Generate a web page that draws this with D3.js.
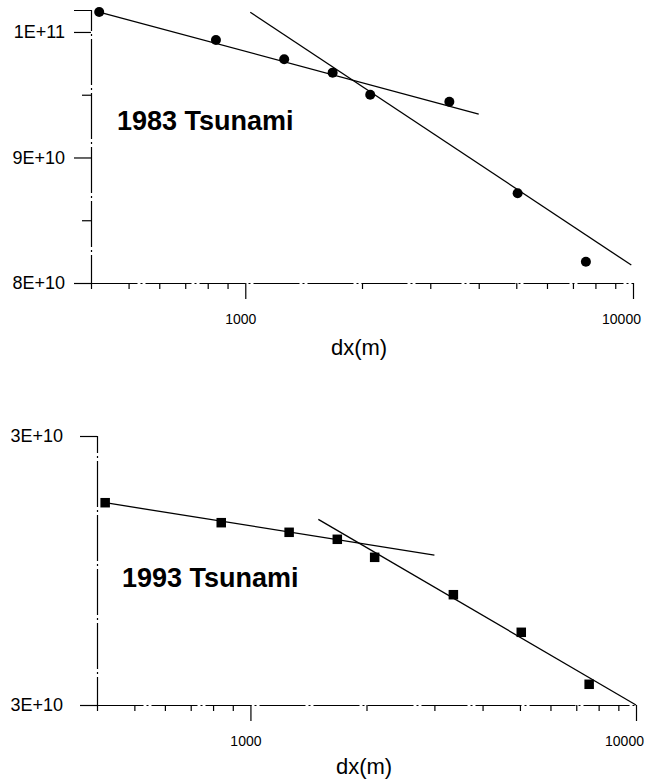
<!DOCTYPE html>
<html>
<head>
<meta charset="utf-8">
<script src="https://cdn.jsdelivr.net/npm/d3@7"></script>
<style>
  body { margin: 0; background: #fff; }
  svg { display: block; }
  text { font-family: "Liberation Sans", Arial, sans-serif; fill: #000; }
</style>
</head>
<body>
<svg width="648" height="784"></svg>
<script>
// grid spacing dx (m), shared by both events
var dxValues = [420, 840, 1260, 1680, 2100, 3360, 5040, 7560];
var xTicks = [400, 500, 600, 700, 800, 900, 1000, 2000, 3000, 4000, 5000, 6000, 7000, 8000, 9000, 10000];
var xLabelled = [1000, 10000];

// 1983 event
var values1983 = [1.0159e11, 9.936e10, 9.782e10, 9.676e10, 9.500e10, 9.444e10, 8.715e10, 8.170e10];
var fit1983a = [[420, 1.0159e11], [4000, 9.346e10]];
var fit1983b = [[1030, 1.0157e11], [9900, 8.143e10]];
var yTicks1983 = [8e10, 8.5e10, 9e10, 9.5e10, 1e11];
var yLabelled1983 = [8e10, 9e10, 1e11];

// 1993 event
var values1993 = [3.1008e10, 3.0711e10, 3.0568e10, 3.0464e10, 3.0196e10, 2.9640e10, 2.9081e10, 2.8308e10];
var fit1993a = [[420, 3.1008e10], [3000, 3.023e10]];
var fit1993b = [[1500, 3.0761e10], [10000, 2.8e10]];
var yTicks1993 = [2.8e10, 3.2e10];
var yLabelled1993 = [2.8e10, 3.2e10];

const svg = d3.select("svg");
const fmtE = d => d3.format(".0e")(d).toUpperCase();

function drawPanel(p) {
    const x = d3.scaleLog().domain([400, 10000]).range(p.xRange);
    const y = d3.scaleLinear().domain(p.yDomain).range(p.yRange);
    const g = svg.append("g");

    // y axis, ticks out to the left
    const ya = g.append("g")
        .attr("transform", `translate(${p.xRange[0]},0)`)
        .call(d3.axisLeft(y)
            .tickValues(p.yTicks)
            .tickFormat(d => p.yLabelled.includes(d) ? fmtE(d) : "")
            .tickSizeOuter(0)
            .tickSize(p.yTickLen)
            .tickPadding(p.yPad));
    ya.selectAll(".tick line")
        .attr("x2", d => p.yLabelled.includes(d) ? -p.yTickLen : -9)
        .attr("stroke-width", 1.2);
    ya.selectAll(".tick text")
        .attr("font-size", 18)
        .attr("font-family", '"Liberation Sans", Arial, sans-serif');

    // x axis, log scale, ticks hanging down
    const xa = g.append("g")
        .attr("transform", `translate(0,${p.yRange[0]})`)
        .call(d3.axisBottom(x)
            .tickValues(xTicks)
            .tickFormat(d => xLabelled.includes(d) ? d : "")
            .tickSizeOuter(0));
    xa.selectAll(".tick line")
        .attr("y2", d => xLabelled.includes(d) ? 16 : 6)
        .attr("stroke-width", 1.2);
    // the last label is pushed in so it stays on the page
    xa.selectAll(".tick text")
        .attr("y", 41).attr("dy", 0)
        .attr("dx", d => d === 10000 ? -12 : -5)
        .attr("font-size", 14)
        .attr("font-family", '"Liberation Sans", Arial, sans-serif');

    g.selectAll(".domain")
        .attr("stroke-width", 1.2)
        .attr("stroke-dasharray", "46,3,2,3");

    // fitted lines
    const line = d3.line().x(d => x(d[0])).y(d => y(d[1]));
    g.selectAll("path.fit")
        .data(p.fits)
        .enter().append("path")
        .attr("class", "fit")
        .attr("d", line)
        .attr("fill", "none")
        .attr("stroke", "#000")
        .attr("stroke-width", 1.3);

    // markers
    const pts = dxValues.map((d, i) => [d, p.values[i]]);
    if (p.marker === "circle") {
        g.selectAll("circle")
            .data(pts)
            .enter().append("circle")
            .attr("cx", d => x(d[0]))
            .attr("cy", d => y(d[1]))
            .attr("r", 5)
            .attr("fill", "#000");
    } else {
        const s = 9.5;
        g.selectAll("rect")
            .data(pts)
            .enter().append("rect")
            .attr("x", d => x(d[0]) - s / 2)
            .attr("y", d => y(d[1]) - s / 2)
            .attr("width", s)
            .attr("height", s)
            .attr("fill", "#000");
    }

    g.append("text")
        .attr("x", p.titlePos[0]).attr("y", p.titlePos[1])
        .attr("font-size", 27)
        .attr("font-weight", "bold")
        .text(p.title);

    g.append("text")
        .attr("x", p.xLabelPos[0]).attr("y", p.xLabelPos[1])
        .attr("text-anchor", "middle")
        .attr("font-size", 22)
        .text("dx(m)");
}

drawPanel({
    xRange: [91, 633],
    yDomain: [8e10, 1.0175e11],
    yRange: [283, 10],
    yTicks: yTicks1983,
    yLabelled: yLabelled1983,
    yTickLen: 17,
    yPad: 9,
    values: values1983,
    fits: [fit1983a, fit1983b],
    marker: "circle",
    title: "1983 Tsunami",
    titlePos: [117, 130],
    xLabelPos: [359, 355]
});

drawPanel({
    xRange: [97, 636],
    yDomain: [2.8e10, 3.2e10],
    yRange: [705, 436],
    yTicks: yTicks1993,
    yLabelled: yLabelled1993,
    yTickLen: 17,
    yPad: 17,
    values: values1993,
    fits: [fit1993a, fit1993b],
    marker: "square",
    title: "1993 Tsunami",
    titlePos: [122, 587],
    xLabelPos: [364, 774]
});
</script>
</body>
</html>
